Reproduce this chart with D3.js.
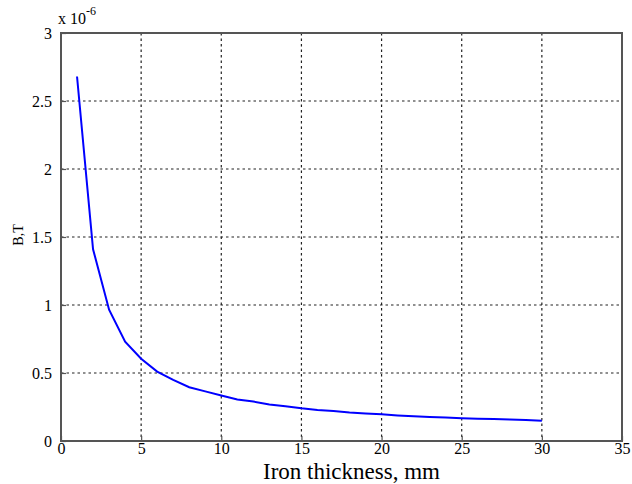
<!DOCTYPE html>
<html>
<head>
<meta charset="utf-8">
<script src="https://cdn.jsdelivr.net/npm/d3@7"></script>
<style>
  html, body { margin: 0; padding: 0; background: #fff; }
  svg { display: block; }
  text { font-family: "Liberation Serif", "Times New Roman", serif; }
</style>
</head>
<body>
<svg id="chart" width="632" height="484"></svg>
<script>
const thickness = [1,2,3,4,5,6,7,8,9,10,11,12,13,14,15,16,17,18,19,20,21,22,23,24,25,26,27,28,29,30];
const fieldB = [2.68,1.41,0.965,0.73,0.605,0.51,0.45,0.395,0.365,0.335,0.305,0.29,0.268,0.255,0.24,0.228,0.22,0.21,0.203,0.196,0.188,0.182,0.177,0.172,0.167,0.164,0.161,0.158,0.154,0.149];
const xTicks = [0,5,10,15,20,25,30,35];
const yTicks = [0,0.5,1,1.5,2,2.5,3];
const xTickLabels = ["0","5","10","15","20","25","30","35"];
const yTickLabels = ["0","0.5","1","1.5","2","2.5","3"];

const svg = d3.select("#chart");
const L = 61, R = 622, T = 33, B = 441;
const x = d3.scaleLinear().domain([0,35]).range([L,R]);
const y = d3.scaleLinear().domain([0,3]).range([B,T]);
const font = "'Liberation Serif', serif";

// grid
const grid = svg.append("g");
grid.selectAll(".gx").data(xTicks.slice(1,-1)).enter().append("line")
  .attr("x1", d => x(d)).attr("x2", d => x(d)).attr("y1", T).attr("y2", B)
  .attr("stroke", "#222").attr("stroke-width", 1.2).attr("stroke-dasharray", "2.5,3");
grid.selectAll(".gy").data(yTicks.slice(1,-1)).enter().append("line")
  .attr("y1", d => y(d)).attr("y2", d => y(d)).attr("x1", L).attr("x2", R)
  .attr("stroke", "#222").attr("stroke-width", 1.2).attr("stroke-dasharray", "2.5,3");

// axes with inward ticks
const xAxis = d3.axisBottom(x).tickValues(xTicks).tickFormat((d,i) => xTickLabels[i]).tickSizeInner(-5).tickSizeOuter(0).tickPadding(2);
const yAxis = d3.axisLeft(y).tickValues(yTicks).tickFormat((d,i) => yTickLabels[i]).tickSizeInner(-5).tickSizeOuter(0).tickPadding(9);
const gx = svg.append("g").attr("transform", `translate(0,${B})`).call(xAxis);
const gy = svg.append("g").attr("transform", `translate(${L},0)`).call(yAxis);
[gx, gy].forEach(g => {
  g.attr("font-family", null).attr("font-size", null);
  g.select(".domain").remove();
  g.selectAll(".tick line").attr("stroke", "#555").attr("stroke-width", 1.2);
  g.selectAll(".tick text").style("font-family", font).style("font-size", "16px").attr("fill", "#000");
});
gy.selectAll(".tick text").attr("dy", "0.35em");
gx.selectAll(".tick text").attr("dy", "0.71em");

// frame
svg.append("rect").attr("x", L).attr("y", T).attr("width", R - L).attr("height", B - T)
  .attr("fill", "none").attr("stroke", "#555").attr("stroke-width", 2);

// line
const line = d3.line().x((d,i) => x(thickness[i])).y(d => y(d));
svg.append("path").datum(fieldB).attr("d", line)
  .attr("fill", "none").attr("stroke", "#0000ff").attr("stroke-width", 2);

// labels
svg.append("text").attr("x", (L+R)/2 + 10).attr("y", 478.5).attr("text-anchor", "middle")
  .style("font-family", font).style("font-size", "23px").attr("fill", "#000").text("Iron thickness, mm");
svg.append("text").attr("transform", "translate(23,235) rotate(-90)").attr("text-anchor", "middle")
  .style("font-family", font).style("font-size", "14px").attr("fill", "#000").text("B,T");
const exp = svg.append("text").attr("x", 58).attr("y", 24).style("font-family", font).style("font-size", "16px").attr("fill", "#000");
exp.append("tspan").text("x 10");
exp.append("tspan").attr("dy", -9).style("font-size", "12px").text("-6");
</script>
</body>
</html>
